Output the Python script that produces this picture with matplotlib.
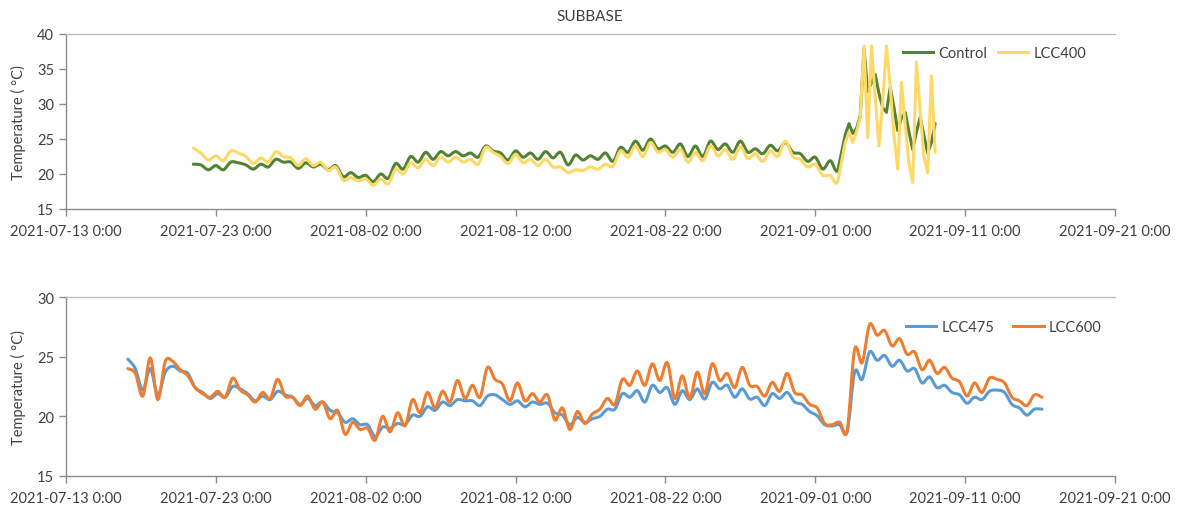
import matplotlib
matplotlib.use("Agg")
import matplotlib.pyplot as plt
import matplotlib.dates as mdates
from matplotlib.path import Path
from matplotlib.patches import PathPatch
from matplotlib.lines import Line2D
from matplotlib.ticker import FuncFormatter
import pandas as pd

# ---- SUBBASE temperatures (deg C) ----
# Upper panel: 12-hourly readings from 2021-07-21 12:00, then 6-hourly from 2021-09-03 00:00
control_main = [
    21.4, 21.3, 20.6, 21.2, 20.6, 21.7, 21.6, 21.3, 20.7, 21.4,
    21.0, 22.1, 21.7, 21.7, 20.8, 21.6, 21.0, 21.4, 20.6, 21.2,
    19.6, 20.2, 19.5, 19.8, 18.9, 20.0, 19.4, 21.5, 20.7, 22.5,
    21.7, 23.1, 22.1, 23.2, 22.6, 23.2, 22.6, 23.0, 22.4, 24.0,
    23.3, 23.0, 22.0, 23.3, 22.4, 23.0, 22.1, 23.2, 22.3, 23.1,
    21.3, 22.7, 22.0, 22.6, 22.1, 23.0, 21.8, 23.8, 23.1, 24.7,
    23.4, 25.0, 23.6, 24.0, 23.1, 24.3, 22.5, 24.0, 22.5, 24.7,
    23.5, 24.3, 23.1, 24.7, 23.1, 23.6, 22.9, 24.1, 23.3, 24.5,
    23.1, 22.9, 21.8, 22.4, 20.7, 21.9, 20.5,
]
control_tail = [
    25.6, 27.2, 25.8, 26.5, 28.3, 37.9, 31.8, 33.0, 34.2, 31.5,
    29.5, 28.8, 32.4, 29.5, 26.2, 28.0, 28.8, 26.0, 23.5, 26.0,
    28.1, 25.5, 23.0, 24.5, 27.2,
]
lcc400_main = [
    23.7, 23.0, 22.0, 22.6, 21.9, 23.3, 23.0, 22.5, 21.5, 22.3,
    21.7, 23.2, 22.5, 22.3, 21.2, 22.2, 21.2, 21.7, 20.5, 21.0,
    19.1, 19.5, 19.0, 19.3, 18.4, 19.3, 18.6, 20.7, 20.0, 21.6,
    20.9, 22.1, 21.2, 22.4, 21.7, 22.4, 21.7, 22.1, 21.4, 23.8,
    23.1, 22.5, 21.5, 22.8, 21.6, 22.1, 21.2, 22.1, 21.0, 21.0,
    20.2, 20.6, 20.5, 21.0, 20.7, 21.4, 21.1, 23.3, 22.4, 24.0,
    22.5, 24.5, 23.1, 23.5, 22.4, 23.5, 21.7, 23.1, 21.9, 24.0,
    22.6, 23.5, 22.1, 23.9, 22.2, 22.9, 21.8, 23.3, 22.5, 24.7,
    22.5, 22.1, 21.0, 21.4, 19.8, 19.8, 18.9,
]
lcc400_tail = [
    24.5, 26.0, 24.5, 26.0, 28.1, 38.3, 25.2, 38.3, 31.0, 24.0,
    30.5, 38.3, 32.5, 25.5, 20.7, 33.1, 27.0, 21.5, 18.8, 36.0,
    29.0, 22.5, 20.2, 34.0, 23.1,
]

# Lower panel: 12-hourly readings from 2021-07-17 03:00
lcc475 = [
    24.8, 24.0, 22.2, 24.0, 21.8, 23.7, 24.2, 23.8, 23.6, 22.4,
    22.0, 21.5, 21.9, 21.6, 22.5, 22.3, 21.9, 21.3, 21.7, 21.4,
    22.1, 21.8, 21.6, 21.0, 21.5, 20.9, 21.2, 20.5, 20.3, 19.5,
    19.8, 19.3, 19.3, 18.3, 19.1, 19.0, 19.4, 19.3, 20.1, 20.0,
    20.8, 20.5, 21.2, 20.9, 21.4, 21.3, 21.3, 20.9, 21.7, 21.8,
    21.4, 21.0, 21.3, 20.8, 21.2, 21.0, 21.1, 20.3, 20.1, 19.3,
    19.9, 19.5, 19.8, 20.0, 20.6, 20.6, 21.9, 21.6, 22.15, 21.2,
    22.6, 22.0, 22.4, 21.0, 22.15, 21.4, 22.3, 21.45, 22.85, 22.3,
    22.6, 21.6, 22.3, 21.45, 21.6, 20.9, 21.9, 21.5, 22.0, 21.2,
    21.0, 20.4, 20.05, 19.3, 19.2, 19.3, 18.7, 23.7, 23.1, 25.4,
    24.7, 25.1, 24.2, 24.7, 23.8, 24.0, 22.8, 23.3, 22.4, 22.6,
    22.0, 21.8, 21.1, 21.6, 21.4, 22.1, 22.2, 22.0, 21.0, 20.7,
    20.1, 20.6, 20.6,
]
lcc600 = [
    24.0, 23.6, 21.7, 24.9, 21.4, 24.6, 24.6, 23.9, 23.4, 22.4,
    21.9, 21.6, 22.1, 21.6, 23.2, 22.2, 21.8, 21.2, 22.0, 21.5,
    23.1, 21.7, 21.6, 20.9, 21.7, 20.6, 21.2, 19.8, 20.5, 18.5,
    19.5, 18.9, 19.0, 18.0, 20.0, 18.7, 20.3, 19.2, 21.4, 20.3,
    22.0, 20.7, 22.1, 21.2, 23.0, 21.5, 22.6, 21.6, 24.1, 23.1,
    22.7, 21.3, 22.8, 21.3, 21.9, 21.2, 21.8, 19.7, 20.7, 18.9,
    20.4, 19.4, 20.2, 20.6, 21.5, 21.0, 23.1, 22.6, 23.8, 22.6,
    24.4, 23.0, 24.5, 21.5, 23.4, 21.5, 23.7, 21.9, 24.4, 23.0,
    23.6, 22.4, 24.1, 22.6, 22.5, 21.7, 22.85, 22.1, 23.6, 22.0,
    21.8, 21.0, 20.7, 19.4, 19.3, 19.5, 18.8, 25.6, 24.5, 27.7,
    26.8, 27.2, 25.9, 26.5, 25.2, 25.4, 23.9, 24.7, 23.6, 24.1,
    23.2, 22.9, 21.7, 22.8, 22.0, 23.2, 23.1, 22.8, 21.6, 21.3,
    20.9, 21.8, 21.6,
]

x_start, x_end = "2021-07-13", "2021-09-21"
tick_dates = pd.date_range(x_start, x_end, freq="10D")

top_times = pd.date_range("2021-07-21 12:00", periods=len(control_main), freq="12h").append(
    pd.date_range("2021-09-03 00:00", periods=len(control_tail), freq="6h"))
bottom_times = pd.date_range("2021-07-17 03:00", periods=len(lcc475), freq="12h")

plt.rcParams["font.family"] = ["Lato", "DejaVu Sans"]
text_color = "#404040"
axis_color = "#8c8c8c"
colors = {"Control": "#548235", "LCC400": "#FFD966", "LCC475": "#5B9BD5", "LCC600": "#ED7D31"}
LW = 2.2


def curve(ax, times, values, color, straight_from=None):
    """Draw a smoothed (Catmull-Rom Bezier) line through the points; segments from
    index `straight_from` onward are drawn as straight lines."""
    x = list(mdates.date2num(times))
    y = list(values)
    n = len(x)
    verts = [(x[0], y[0])]
    codes = [Path.MOVETO]
    for i in range(n - 1):
        if straight_from is not None and i >= straight_from:
            verts.append((x[i + 1], y[i + 1]))
            codes.append(Path.LINETO)
            continue
        a = max(i - 1, 0)
        b = min(i + 2, n - 1)
        c1 = (x[i] + (x[i + 1] - x[a]) / 6, y[i] + (y[i + 1] - y[a]) / 6)
        c2 = (x[i + 1] - (x[b] - x[i]) / 6, y[i + 1] - (y[b] - y[i]) / 6)
        verts += [c1, c2, (x[i + 1], y[i + 1])]
        codes += [Path.CURVE4] * 3
    ax.add_patch(PathPatch(Path(verts, codes), fill=False, edgecolor=color, lw=LW,
                           capstyle="round", joinstyle="round"))


fig = plt.figure(figsize=(11.89, 5.10), dpi=100)
ax1 = fig.add_axes([66 / 1189, 1 - 210 / 510, 1049 / 1189, 175 / 510])
ax2 = fig.add_axes([66 / 1189, 1 - 477 / 510, 1049 / 1189, 179 / 510])

split = len(control_main) - 1
curve(ax1, top_times, control_main + control_tail, colors["Control"], straight_from=split)
curve(ax1, top_times, lcc400_main + lcc400_tail, colors["LCC400"], straight_from=split)
curve(ax2, bottom_times, lcc475, colors["LCC475"])
curve(ax2, bottom_times, lcc600, colors["LCC600"])


def fmt_date(v, pos=None):
    d = mdates.num2date(v)
    return f"{d:%Y-%m-%d} {d.hour}:{d:%M}"


panels = ((ax1, (15, 40), ("Control", "LCC400"), (0.985, 0.89), 0.7),
          (ax2, (15, 30), ("LCC475", "LCC600"), (1.0, 0.83), 1.3))
for ax, (lo, hi), names, anchor, colspace in panels:
    ax.set_xlim(pd.Timestamp(x_start), pd.Timestamp(x_end))
    ax.set_ylim(lo, hi)
    ax.set_yticks(range(lo, hi + 1, 5))
    ax.set_xticks(tick_dates)
    ax.xaxis.set_major_formatter(FuncFormatter(fmt_date))
    ax.tick_params(axis="both", colors=axis_color, labelcolor=text_color,
                   labelsize=10.5, length=5, width=1, direction="out")
    ax.tick_params(axis="x", pad=6)
    for side in ("left", "bottom", "top"):
        ax.spines[side].set_color(axis_color)
        ax.spines[side].set_linewidth(1)
    ax.spines["top"].set_color("#bfbfbf")
    ax.spines["right"].set_visible(False)
    ax.set_ylabel("Temperature ( °C)", fontsize=10.5, color=text_color, labelpad=8)
    handles = [Line2D([], [], color=colors[nm], lw=LW) for nm in names]
    ax.legend(handles, names, loc="center right", bbox_to_anchor=anchor, ncol=2,
              frameon=False, fontsize=10.5, handlelength=2.1, columnspacing=colspace,
              handletextpad=0.35, labelcolor=text_color)

fig.text(590 / 1189, 1 - 17 / 510, "SUBBASE", ha="center", va="center",
         fontsize=11, color=text_color)

fig.savefig("out.png", dpi=100, facecolor="white")
